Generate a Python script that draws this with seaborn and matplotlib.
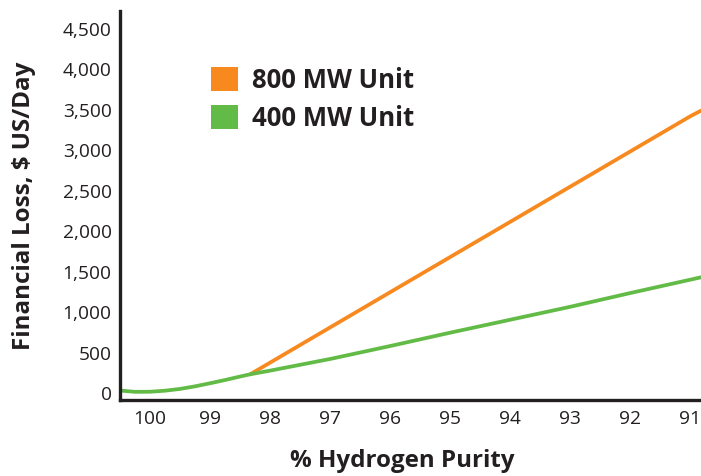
import pandas as pd
import matplotlib.pyplot as plt
import seaborn as sns
from matplotlib.patches import Patch

# % hydrogen purity vs daily loss
purity_400 = [100.5, 100.25, 100.0, 99.75, 99.5, 99.25, 99.0, 98.75, 98.5, 98.33,
              98.0, 97.0, 96.0, 95.0, 94.0, 93.0, 92.0, 91.0, 90.82]
loss_400 = [30, 14, 15, 28, 50, 82, 120, 160, 203, 231,
            276, 420, 580, 745, 905, 1065, 1235, 1400, 1430]

purity_800 = [98.33, 97.0, 96.0, 95.0, 94.0, 93.0, 92.0, 91.0, 90.82]
loss_800 = [231, 810, 1245, 1680, 2115, 2550, 2985, 3420, 3490]

x_ticks = [100, 99, 98, 97, 96, 95, 94, 93, 92, 91]
y_ticks = [0, 500, 1000, 1500, 2000, 2500, 3000, 3500, 4000, 4500]

orange = '#F7891F'
green = '#62BB46'
dark = '#231F20'

df = pd.concat([
    pd.DataFrame({'purity': purity_800, 'loss': loss_800, 'unit': '800 MW Unit'}),
    pd.DataFrame({'purity': purity_400, 'loss': loss_400, 'unit': '400 MW Unit'}),
])

sns.set_theme(style='white')
plt.rcParams['font.family'] = ['Open Sans', 'DejaVu Sans']

fig = plt.figure(figsize=(7.01, 4.76), dpi=100)
ax = fig.add_axes([120 / 701, 1 - 400 / 476, 581 / 701, 389 / 476])

sns.lineplot(data=df, x='purity', y='loss', hue='unit', sort=False,
             palette={'800 MW Unit': orange, '400 MW Unit': green},
             linewidth=2.7, legend=False, ax=ax)

ax.set_xlim(100.5, 90.82)
ax.set_ylim(-87, 4722)
ax.set_xticks(x_ticks)
ax.set_xticklabels([str(t) for t in x_ticks])
ax.set_yticks(y_ticks)
ax.set_yticklabels([f'{t:,}' for t in y_ticks])
ax.tick_params(axis='both', length=0, labelsize=13.8, colors=dark)
ax.tick_params(axis='y', pad=6)
ax.tick_params(axis='x', pad=7)

for side in ['top', 'right']:
    ax.spines[side].set_visible(False)
for side in ['left', 'bottom']:
    ax.spines[side].set_color(dark)
    ax.spines[side].set_linewidth(2.4)

ax.set_xlabel('% Hydrogen Purity', fontsize=17.4, fontweight='bold', color=dark)
ax.xaxis.set_label_coords(0.485, -0.125)
ax.set_ylabel('Financial Loss, $ US/Day', fontsize=17.4, fontweight='bold',
              color=dark, labelpad=19)

handles = [Patch(facecolor=orange, edgecolor='none'),
           Patch(facecolor=green, edgecolor='none')]
fig.legend(handles, ['800 MW Unit', '400 MW Unit'], loc='upper left',
           bbox_to_anchor=(211 / 701, 1 - 67 / 476), frameon=False,
           prop={'weight': 'bold', 'size': 18.5}, handlelength=1.05,
           handleheight=1.05, handletextpad=0.55, labelspacing=0.42,
           borderpad=0, borderaxespad=0, labelcolor=dark)

fig.savefig('out.png', dpi=100)
